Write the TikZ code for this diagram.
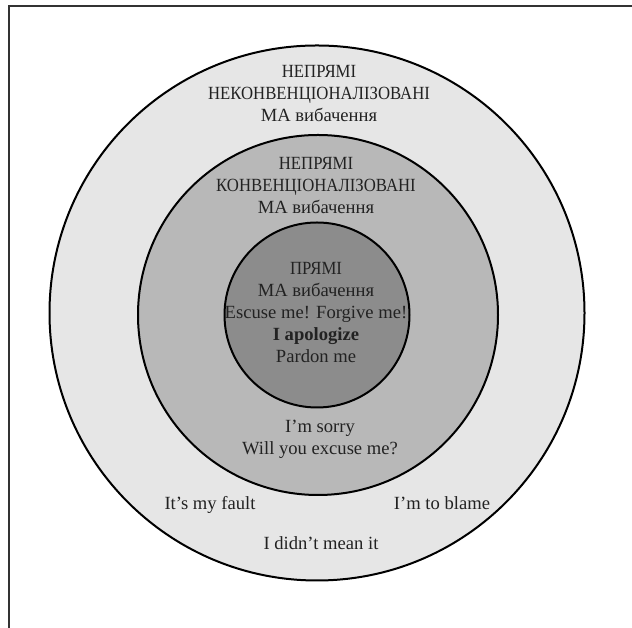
\documentclass[tikz,border=0pt]{standalone}
\usepackage{fontspec}
\setmainfont{Liberation Serif}
\newfontfamily\capsfont[FakeStretch=0.9]{Liberation Serif}
\usepackage{xcolor}
\usetikzlibrary{positioning}
\definecolor{ringout}{HTML}{E6E6E6}
\definecolor{ringmid}{HTML}{B8B8B8}
\definecolor{ringin}{HTML}{8C8C8C}
\definecolor{txt}{HTML}{222222}

\begin{document}
\begin{tikzpicture}[x=1pt,y=1pt,
        ring/.style={circle,draw=black,line width=2pt,inner sep=0pt},
        lbl/.style={align=center,text=txt,font=\fontsize{18.6}{22}\selectfont,inner sep=0pt}]

    \useasboundingbox (0,0) rectangle (632,628);
    \draw[line width=1.5pt,color=black!80] (9,0) -- (9,622) -- (632,622);

    \node[ring,fill=ringout,minimum size=535] (outer) at (317,315) {};
    \node[ring,fill=ringmid,minimum size=360] (mid) at (318,313) {};
    \node[ring,fill=ringin,minimum size=185] (inner) at (317,313) {};

    \node[lbl] (l0) at (319,534) {{\capsfont НЕПРЯМІ}\\{\capsfont НЕКОНВЕНЦІОНАЛІЗОВАНІ}\\МА вибачення};
    \node[lbl] (l1) at (316,442) {{\capsfont НЕПРЯМІ}\\{\capsfont КОНВЕНЦІОНАЛІЗОВАНІ}\\МА вибачення};
    \node[lbl] (l2) at (316,315) {{\capsfont ПРЯМІ}\\МА вибачення\\Escuse me! Forgive me!\\\textbf{I apologize}\\Pardon me};
    \node[lbl] (l3) at (320,189) {I’m sorry\\Will you excuse me?};
    \node[lbl] (l4) at (210,123) {It’s my fault};
    \node[lbl] (l5) at (442,125) {I’m to blame};
    \node[lbl] (l6) at (321,85) {I didn’t mean it};

    \end{tikzpicture}
\end{document}
